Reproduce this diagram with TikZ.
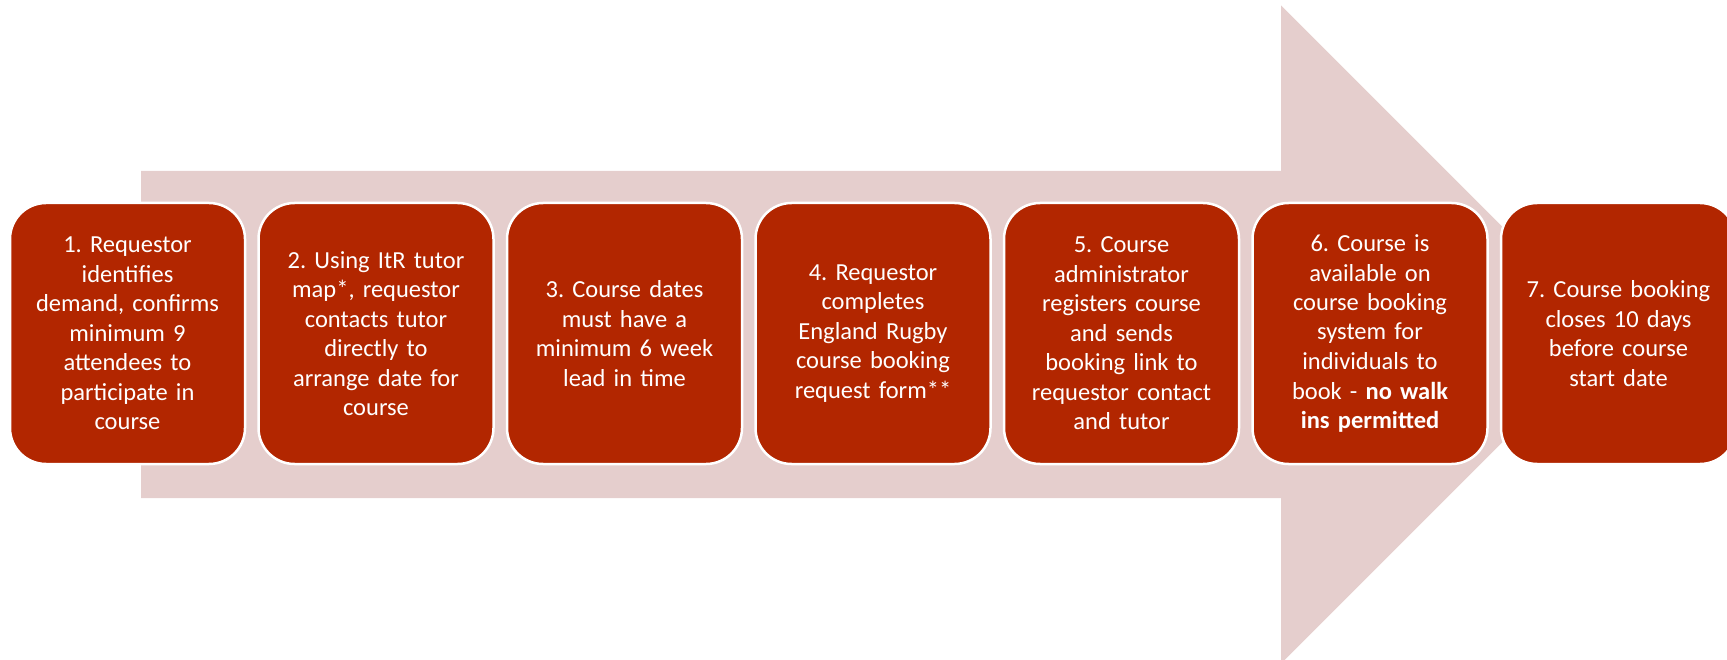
\documentclass[tikz,border=0pt]{standalone}
\usepackage{fontspec}
\setmainfont{Carlito}
\frenchspacing
\definecolor{boxred}{RGB}{178,38,0}
\definecolor{arrowpink}{RGB}{229,206,205}
\begin{document}
\begin{tikzpicture}[x=1pt,y=-1pt,
  stepbox/.style={draw=white, line width=2.5pt, fill=boxred, rounded corners=36pt,
    minimum width=235pt, minimum height=261pt, text width=215pt, align=center,
    text=white, inner sep=0pt, font=\fontsize{24.5}{29.5}\selectfont\frenchspacing}]
\useasboundingbox (0,0) rectangle (1727,660);
\clip (0,0) rectangle (1727,660);
\fill[arrowpink] (141,171) -- (1281,171) -- (1281,5.5) -- (1610,334.5) -- (1281,663.5) -- (1281,498) -- (141,498) -- cycle;
\node[stepbox] (s1) at (127.5,333.5) {1. Requestor\\identifies\\demand, confirms\\minimum 9\\attendees to\\participate in\\course};
\node[stepbox] (s2) at (376,333.5) {2. Using ItR tutor\\map*, requestor\\contacts tutor\\directly to\\arrange date for\\course};
\node[stepbox] (s3) at (624.5,333.5) {3. Course dates\\must have a\\minimum 6 week\\lead in time};
\node[stepbox] (s4) at (873,333.5) {4. Requestor\\completes\\England Rugby\\course booking\\request form**};
\node[stepbox] (s5) at (1121.5,333.5) {5. Course\\administrator\\registers course\\and sends\\booking link to\\requestor contact\\and tutor};
\node[stepbox] (s6) at (1370,333.5) {6. Course is\\available on\\course booking\\system for\\individuals to\\book - \textbf{no walk}\\\textbf{ins permitted}};
\node[stepbox] (s7) at (1618.5,333.5) {7. Course booking\\closes 10 days\\before course\\start date};
\end{tikzpicture}
\end{document}
